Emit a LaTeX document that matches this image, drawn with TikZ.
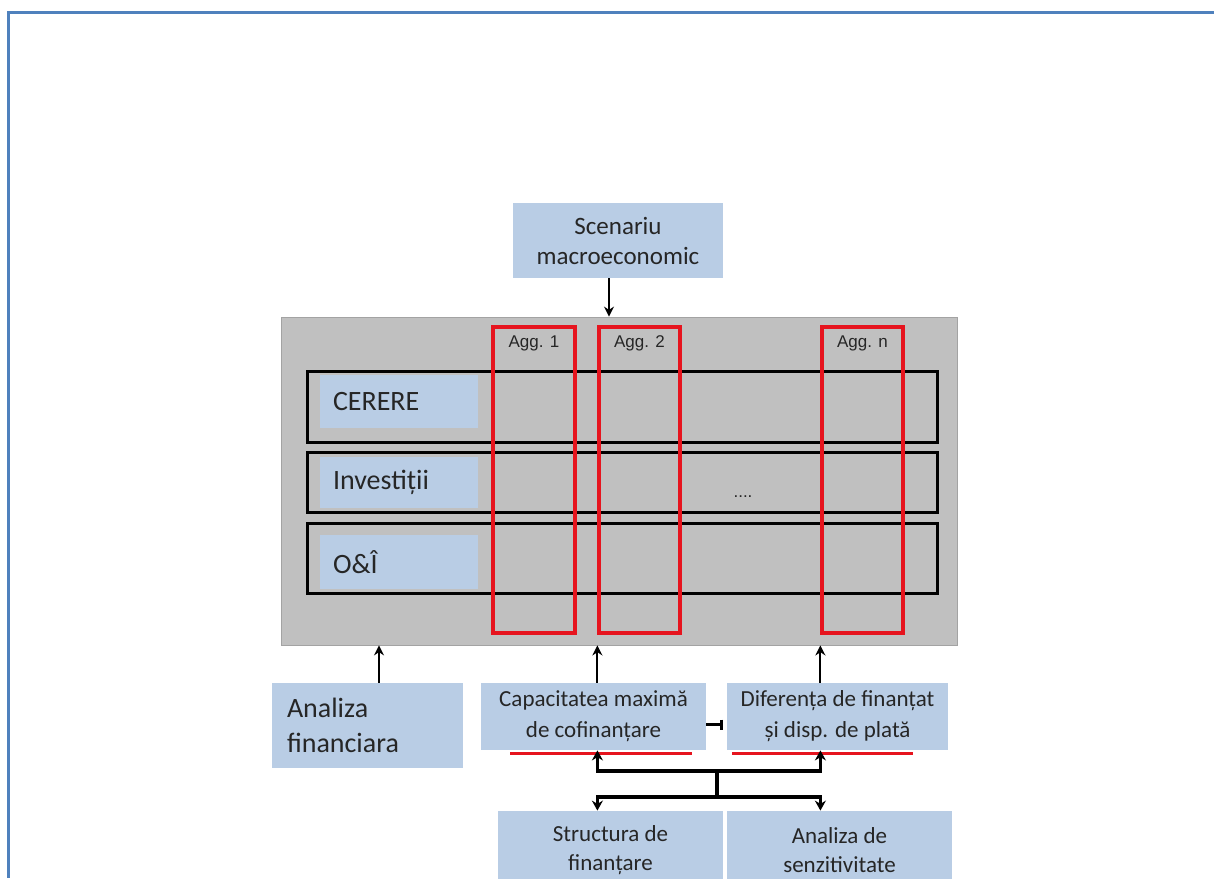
\documentclass[tikz,border=0pt]{standalone}
\usepackage{fontspec}
\setmainfont{Carlito}
\newfontfamily\aggfont{Liberation Sans}
\usetikzlibrary{positioning}
\usetikzlibrary{arrows.meta}
\definecolor{boxblue}{RGB}{185,205,229}
\definecolor{panelgrey}{RGB}{192,192,192}
\definecolor{framebl}{RGB}{79,129,189}
\definecolor{aggred}{RGB}{230,20,30}
\definecolor{txtdark}{RGB}{38,38,38}
\tikzset{%
  bluebox/.style={rectangle,fill=boxblue,inner sep=2pt,align=center,text=txtdark,font=\fontsize{12.5}{15}\selectfont}
}
\tikzset{%
  panel/.style={rectangle,fill=panelgrey,draw=panelgrey!85!black,line width=0.4pt},
  rowbox/.style={rectangle,draw=black,line width=1.5pt,minimum width=315pt},
  rowlabel/.style={rectangle,fill=boxblue,minimum width=79pt,text width=66pt,inner xsep=6.5pt,align=left,text=txtdark,font=\fontsize{14}{16}\selectfont}
}
\tikzset{%
  aggcol/.style={rectangle,draw=aggred,line width=1.6pt,minimum height=153pt},
  agglabel/.style={inner sep=0pt,text=txtdark,font=\aggfont\fontsize{8.5}{10}\selectfont}
}
\tikzset{%
  arr/.style={-{Stealth[length=5pt,width=5pt]},line width=1pt},
  busarr/.style={-{Stealth[length=5pt,width=5.5pt]},line width=1.6pt},
  redline/.style={draw=aggred,line width=1.2pt},
  frameline/.style={draw=framebl,line width=1.5pt}
}

\begin{document}
\begin{tikzpicture}[x=0.5pt,y=-0.5pt]
        \useasboundingbox (0,0) rectangle (1214,878);
        \draw[frameline] (1214,12) -- (8,12) -- (8,878);

        \node[bluebox,minimum width=105pt,minimum height=37.5pt](scen) at (618,240.5){Scenariu\\macroeconomic};
        \node[panel,minimum width=338pt,minimum height=164pt](panel) at (619,481){};

        \node[rowbox,minimum height=35.5pt](rcerere) at (622,406.5){};
        \node[rowbox,minimum height=30pt](rinvest) at (622,482){};
        \node[rowbox,minimum height=35pt](roi) at (622,558){};
        \node[rowlabel,minimum height=26.5pt](lcerere) at (399,401.5){CERERE};
        \node[rowlabel,minimum height=25.5pt](linvest) at (399,482.5){Investiții};
        \node[rowlabel,minimum height=27pt](loi) at (399,562){O\&Î};

        \node[aggcol,minimum width=41pt](agga) at (534,480){};
        \node[aggcol,minimum width=40.5pt](aggb) at (639.5,480){};
        \node[aggcol,minimum width=40.5pt](aggn) at (862.5,480){};
        \node[agglabel,below=5pt of agga.north](laga){Agg. 1};
        \node[agglabel,below=5pt of aggb.north](lagb){Agg. 2};
        \node[agglabel,below=5pt of aggn.north](lagn){Agg. n};
        \node[agglabel](dots) at (743,497){....};

        \node[bluebox,minimum width=95.5pt,minimum height=42.5pt,text width=80.5pt,inner xsep=7.5pt,align=left,font=\fontsize{14}{17.5}\selectfont](finan) at (367.5,725.5){Analiza\\financiara};
        \node[bluebox,minimum width=112.5pt,minimum height=33.5pt,font=\fontsize{11.5}{15.5}\selectfont](capac) at (593.5,716.5){Capacitatea maximă\\de cofinanțare};
        \node[bluebox,minimum width=110.5pt,minimum height=33.5pt,font=\fontsize{11.5}{15.5}\selectfont](difer) at (837.5,716.5){Diferența de finanțat\\și disp. de plată};
        \node[bluebox,minimum width=112.5pt,minimum height=39.5pt,font=\fontsize{11.5}{14.5}\selectfont](struct) at (610.5,850.5){Structura de\\finanțare};
        \node[bluebox,minimum width=112.5pt,minimum height=39.5pt,font=\fontsize{11.5}{14.5}\selectfont](senz) at (839.5,850.5){Analiza de\\senzitivitate};

        % red marks under the two middle boxes
        \draw[redline] ([xshift=-41.75pt,yshift=-1.5pt]capac.south) -- ([xshift=49.25pt,yshift=-1.5pt]capac.south);
        \draw[redline] ([xshift=-52.75pt,yshift=-1.5pt]difer.south) -- ([xshift=37.75pt,yshift=-1.5pt]difer.south);

        \draw[arr] ([xshift=-4.5pt]scen.south) -- ([xshift=-4.5pt]scen.south |- panel.north);
        \draw[arr] ([xshift=5.75pt]finan.north) -- ([xshift=5.75pt]finan.north |- panel.south);
        \draw[arr] (aggb.west |- capac.north) -- (aggb.west |- panel.south);
        \draw[arr] (aggn.west |- difer.north) -- (aggn.west |- panel.south);
        \draw[line width=1.2pt,-{Bar[width=5pt]}] ([yshift=-4pt]capac.east) -- ([yshift=-4pt,xshift=-2pt]difer.west);

        % distribution bus
        \coordinate (busup) at (717,771);
        \coordinate (buslo) at (717,797);
        \draw[busarr] (busup) -| (aggb.west |- capac.south);
        \draw[busarr] (busup) -| (aggn.west |- difer.south);
        \draw[line width=1.6pt] (busup) -- (buslo);
        \draw[busarr] (buslo) -| (aggb.west |- struct.north);
        \draw[busarr] (buslo) -| (aggn.west |- senz.north);
      \end{tikzpicture}
\end{document}
